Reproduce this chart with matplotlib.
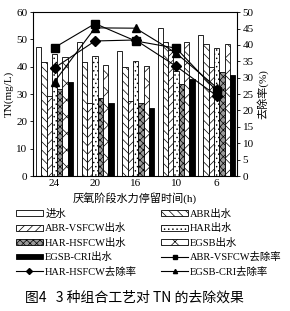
import numpy as np
import matplotlib
matplotlib.use("Agg")
import matplotlib.pyplot as plt
from matplotlib.lines import Line2D
from matplotlib.patches import Patch

plt.rcParams['font.family'] = ['Liberation Serif', 'Noto Sans CJK SC']
plt.rcParams['hatch.linewidth'] = 0.5

# HRT groups (x axis)
hrt_labels = ['24', '20', '16', '10', '6']

# TN concentrations (mg/L), left axis
influent = [47.4, 49.2, 45.9, 54.2, 51.6]
abr_out = [41.9, 41.9, 39.8, 49.2, 48.4]
abr_vsfcw_out = [29.2, 26.8, 27.4, 46.0, 40.0]
har_out = [44.6, 44.0, 42.0, 38.5, 46.9]
har_hsfcw_out = [31.8, 28.5, 26.9, 33.8, 38.0]
egsb_out = [43.4, 40.7, 40.2, 49.2, 48.2]
egsb_cri_out = [34.6, 26.8, 24.8, 35.5, 37.0]

# removal rates (%), right axis
abr_vsfcw_rate = [39.2, 46.5, 41.2, 39.0, 26.0]
har_hsfcw_rate = [33.0, 41.2, 41.5, 33.5, 24.5]
egsb_cri_rate = [28.8, 45.2, 45.1, 37.5, 27.0]

bar_names = ['进水', 'ABR出水', 'ABR-VSFCW出水', 'HAR出水',
             'HAR-HSFCW出水', 'EGSB出水', 'EGSB-CRI出水']
bar_data = [influent, abr_out, abr_vsfcw_out, har_out,
            har_hsfcw_out, egsb_out, egsb_cri_out]
bar_faces = ['white', 'white', 'white', 'white', '#9a9a9a', 'white', 'black']
bar_hatches = ['', '\\\\\\\\', '////', '....', 'xxxxx', 'xx', '']

fig = plt.figure(figsize=(2.9, 3.11), dpi=100)
ax = fig.add_axes([0.114, 0.434, 0.703, 0.527])

x = np.arange(len(hrt_labels))
w = 0.13
for j, (vals, fc, h) in enumerate(zip(bar_data, bar_faces, bar_hatches)):
    ax.bar(x + (j - 3) * w, vals, w, color=fc, edgecolor='black',
           hatch=h, linewidth=0.6, zorder=1)

ax.set_xlim(-0.53, 4.5)
ax.set_ylim(0, 60)
ax.set_yticks(range(0, 61, 10))
ax.set_xticks(x)
ax.set_xticklabels(hrt_labels)
ax.tick_params(labelsize=8, length=2, width=0.6, pad=2)
ax.tick_params(axis='x', length=0)
ax.set_ylabel('TN(mg/L)', fontsize=8, labelpad=2)
ax.set_xlabel('厌氧阶段水力停留时间(h)', fontsize=8, labelpad=3)
for s in ax.spines.values():
    s.set_linewidth(0.7)

ax2 = ax.twinx()
ax2.set_ylim(0, 50)
ax2.set_yticks(range(0, 51, 5))
ax2.tick_params(labelsize=8, length=2, width=0.6, pad=2)
ax2.set_ylabel('去除率(%)', fontsize=8, labelpad=2)
ax2.plot(x, abr_vsfcw_rate, color='black', lw=0.8, marker='s', ms=6, zorder=3)
ax2.plot(x, har_hsfcw_rate, color='black', lw=0.8, marker='D', ms=5, zorder=3)
ax2.plot(x, egsb_cri_rate, color='black', lw=0.8, marker='^', ms=6, zorder=3)

rate_names = ['ABR-VSFCW去除率', 'HAR-HSFCW去除率', 'EGSB-CRI去除率']
rate_markers = ['s', 'D', '^']
handles = [Patch(facecolor=fc, edgecolor='black', hatch=h, linewidth=0.6)
           for fc, h in zip(bar_faces, bar_hatches)]
handles += [Line2D([], [], color='black', lw=0.8, marker=m, ms=3)
            for m in rate_markers]
labels = bar_names + rate_names
# legend fills column-wise, reorder so rows read left to right
order = list(range(0, 10, 2)) + list(range(1, 10, 2))
fig.legend([handles[i] for i in order], [labels[i] for i in order],
           loc='upper left', bbox_to_anchor=(0.055, 0.328), ncol=2,
           frameon=False, fontsize=7.5, handlelength=2.6, handleheight=0.5,
           handletextpad=0.2, columnspacing=2.3, labelspacing=0.42,
           borderaxespad=0, borderpad=0)

fig.text(0.085, 0.042, '图4   3 种组合工艺对 TN 的去除效果', fontsize=10,
         family=['Noto Sans CJK SC', 'DejaVu Sans'], ha='left', va='center')

fig.savefig('out.png', dpi=100)
